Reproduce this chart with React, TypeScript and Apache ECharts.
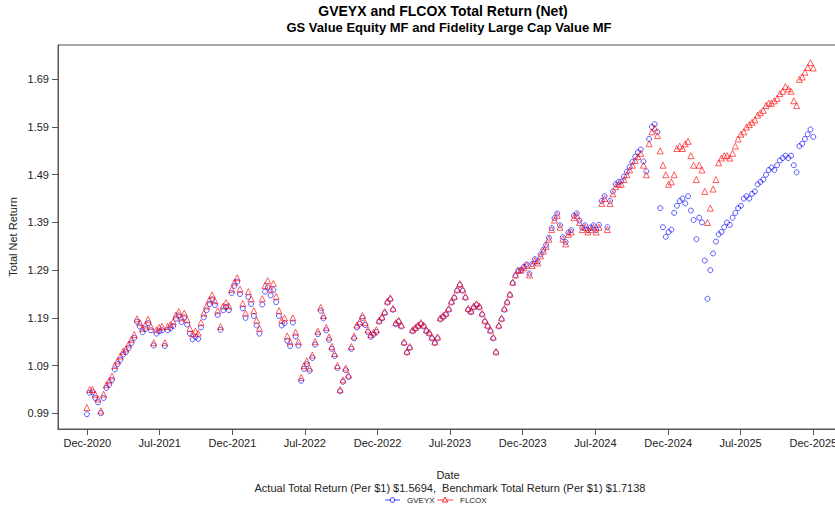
import React, { useEffect, useRef } from "react";
import * as echarts from "echarts";

// Weekly observations starting at this date
const startDate = "2020-12-30";
const stepDays = 7;

const gveyx = [
  0.988, 1.033, 1.034, 1.022, 1.013, 0.99, 1.022, 1.043, 1.05, 1.06,
  1.082, 1.093, 1.102, 1.113, 1.118, 1.127, 1.137, 1.148, 1.182, 1.172,
  1.16, 1.167, 1.179, 1.164, 1.132, 1.157, 1.162, 1.164, 1.131, 1.164,
  1.168, 1.173, 1.188, 1.195, 1.181, 1.191, 1.176, 1.157, 1.145, 1.15,
  1.146, 1.17, 1.191, 1.206, 1.219, 1.229, 1.217, 1.196, 1.165, 1.206,
  1.213, 1.206, 1.242, 1.257, 1.266, 1.24, 1.21, 1.19, 1.234, 1.219,
  1.194, 1.174, 1.157, 1.218, 1.245, 1.254, 1.237, 1.248, 1.223, 1.194,
  1.174, 1.179, 1.142, 1.131, 1.18, 1.151, 1.132, 1.058, 1.083, 1.093,
  1.079, 1.106, 1.134, 1.156, 1.205, 1.189, 1.164, 1.144, 1.125, 1.11,
  1.085, 1.036, 1.056, 1.08, 1.066, 1.125, 1.147, 1.17, 1.177, 1.19,
  1.175, 1.16, 1.15, 1.155, 1.16, 1.182, 1.189, 1.2, 1.222, 1.229,
  1.207, 1.177, 1.182, 1.172, 1.137, 1.117, 1.127, 1.162, 1.167, 1.172,
  1.177, 1.172, 1.162, 1.157, 1.147, 1.137, 1.147, 1.187, 1.192, 1.197,
  1.207, 1.222, 1.232, 1.247, 1.259, 1.247, 1.232, 1.207, 1.202, 1.212,
  1.217, 1.212, 1.197, 1.182, 1.172, 1.162, 1.147, 1.117, 1.172, 1.187,
  1.207, 1.222, 1.238, 1.263, 1.279, 1.289, 1.29, 1.297, 1.302, 1.283,
  1.303, 1.313, 1.308, 1.323, 1.333, 1.343, 1.358, 1.378, 1.399, 1.409,
  1.384, 1.359, 1.349, 1.369, 1.374, 1.404, 1.409, 1.394, 1.379, 1.384,
  1.374, 1.379, 1.384, 1.374, 1.385, 1.435, 1.445, 1.38, 1.435, 1.455,
  1.47, 1.475, 1.476, 1.486, 1.496, 1.506, 1.517, 1.528, 1.537, 1.543,
  1.518, 1.497, 1.565, 1.59, 1.596, 1.58, 1.42, 1.38, 1.36, 1.37,
  1.375, 1.41, 1.425, 1.435, 1.44, 1.43, 1.445, 1.415, 1.395, 1.355,
  1.4, 1.39, 1.31, 1.23, 1.29, 1.325, 1.35, 1.365, 1.37, 1.38,
  1.39, 1.385, 1.4, 1.41, 1.42, 1.425, 1.44, 1.445, 1.44, 1.45,
  1.455, 1.47, 1.475, 1.48, 1.49, 1.5, 1.505, 1.5, 1.51, 1.52,
  1.525, 1.53, 1.525, 1.53, 1.51, 1.495, 1.55, 1.555, 1.565, 1.575,
  1.585, 1.5694,
];

const flcox = [
  1.002, 1.04, 1.04, 1.03, 1.02, 0.995, 1.03, 1.05, 1.058, 1.068,
  1.09, 1.1, 1.11, 1.12, 1.125, 1.135, 1.145, 1.155, 1.188, 1.18,
  1.168, 1.175, 1.187, 1.172, 1.138, 1.165, 1.17, 1.172, 1.138, 1.172,
  1.176, 1.182, 1.196, 1.203, 1.19, 1.2, 1.186, 1.168, 1.157, 1.162,
  1.158, 1.18, 1.2, 1.215, 1.228, 1.238, 1.226, 1.205, 1.172, 1.215,
  1.222, 1.215, 1.25, 1.265, 1.274, 1.25, 1.22, 1.2, 1.245, 1.23,
  1.205, 1.185, 1.168, 1.23, 1.258, 1.268, 1.25, 1.262, 1.235, 1.205,
  1.185, 1.19, 1.152, 1.14, 1.19, 1.16, 1.14, 1.065, 1.09, 1.1,
  1.085, 1.112, 1.14, 1.162, 1.212, 1.195, 1.17, 1.15, 1.13, 1.115,
  1.09, 1.04, 1.06, 1.085, 1.07, 1.13, 1.152, 1.175, 1.182, 1.195,
  1.18, 1.165, 1.155, 1.16, 1.165, 1.185, 1.192, 1.203, 1.225, 1.232,
  1.21, 1.18, 1.185, 1.175, 1.14, 1.12, 1.13, 1.165, 1.17, 1.175,
  1.18, 1.175, 1.165, 1.16, 1.15, 1.14, 1.15, 1.19, 1.195, 1.2,
  1.21, 1.225, 1.235, 1.25, 1.262, 1.25, 1.235, 1.21, 1.205, 1.215,
  1.22, 1.215, 1.2, 1.185, 1.175, 1.165, 1.15, 1.12, 1.175, 1.19,
  1.21, 1.225, 1.24, 1.265, 1.28, 1.29, 1.29, 1.295, 1.3, 1.28,
  1.3, 1.31, 1.305, 1.32, 1.33, 1.34, 1.355, 1.375, 1.395, 1.405,
  1.38, 1.355, 1.345, 1.365, 1.37, 1.4, 1.405, 1.39, 1.375, 1.38,
  1.37, 1.375, 1.38, 1.37, 1.38, 1.43, 1.44, 1.375, 1.43, 1.45,
  1.465, 1.47, 1.47, 1.48, 1.49, 1.5, 1.51, 1.52, 1.528, 1.535,
  1.51, 1.49, 1.555, 1.58, 1.588, 1.572, 1.54, 1.51, 1.49, 1.47,
  1.475, 1.49, 1.545, 1.55, 1.545, 1.555, 1.56, 1.53, 1.51, 1.48,
  1.51, 1.5, 1.455, 1.39, 1.42, 1.46, 1.48, 1.515, 1.525, 1.53,
  1.53, 1.525, 1.535, 1.55, 1.565, 1.575, 1.58, 1.59, 1.595, 1.6,
  1.605, 1.615, 1.62, 1.625, 1.635, 1.64, 1.64, 1.645, 1.65, 1.66,
  1.665, 1.675, 1.67, 1.665, 1.645, 1.635, 1.69, 1.695, 1.705, 1.715,
  1.725, 1.7138,
];

const tickDates = [
  "2020-12-31", "2021-07-01", "2021-12-31", "2022-07-01", "2022-12-31", "2023-07-01",
  "2023-12-31", "2024-07-01", "2024-12-31", "2025-07-01", "2025-12-31",
];
const tickLabels = [
  "Dec-2020", "Jul-2021", "Dec-2021", "Jul-2022", "Dec-2022", "Jul-2023",
  "Dec-2023", "Jul-2024", "Dec-2024", "Jul-2025", "Dec-2025",
];
const yTicks = [0.99, 1.09, 1.19, 1.29, 1.39, 1.49, 1.59, 1.69];

const seriesNames = ["GVEYX", "FLCOX"];
const titleLines = [
  "GVEYX and FLCOX Total Return (Net)",
  "GS Value Equity MF and Fidelity Large Cap Value MF",
];
const caption =
  "Actual Total Return (Per $1) $1.5694,  Benchmark Total Return (Per $1) $1.7138";

const FONT = '"Liberation Sans", Arial, Helvetica, sans-serif';
const DAY = 86400000;
const ORIGIN = Date.UTC(2020, 11, 31);
const toDay = (s: string) => (Date.parse(s + "T00:00:00Z") - ORIGIN) / DAY;

export default function App() {
  const ref = useRef<HTMLDivElement>(null);
  useEffect(() => {
    if (!ref.current) return;
    document.body.style.margin = "0";
    document.body.style.overflow = "hidden";
    const chart = echarts.init(ref.current, undefined, { renderer: "svg" });
    const start = toDay(startDate);
    const gData = gveyx.map((v, i) => [start + i * stepDays, v]);
    const fData = flcox.map((v, i) => [start + i * stepDays, v]);
    const tickVals = tickDates.map(toDay);
    const axisColor = "#555";
    const labelColor = "#222";

    chart.setOption({
      animation: false,
      textStyle: { fontFamily: FONT },
      grid: {
        left: 58,
        top: 45,
        right: 0,
        bottom: 79,
        outerBoundsMode: "none",
        containLabel: false,
        show: true,
        borderColor: axisColor,
        borderWidth: 1,
        backgroundColor: "transparent",
      },
      xAxis: {
        type: "value",
        min: -73.7,
        max: 1930.9,
        splitLine: { show: false },
        axisLine: { show: true, onZero: false, lineStyle: { color: axisColor } },
        axisTick: {
          show: true,
          length: 6,
          customValues: tickVals,
          lineStyle: { color: axisColor },
        },
        axisLabel: {
          customValues: tickVals,
          color: labelColor,
          fontSize: 11,
          fontFamily: FONT,
          margin: 8,
          formatter: (v: number) => {
            let best = 0;
            tickVals.forEach((t, i) => {
              if (Math.abs(t - v) < Math.abs(tickVals[best] - v)) best = i;
            });
            return tickLabels[best];
          },
        },
      },
      yAxis: {
        type: "value",
        min: 0.957,
        max: 1.762,
        splitLine: { show: false },
        axisLine: { show: true, onZero: false, lineStyle: { color: axisColor } },
        axisTick: {
          show: true,
          length: 6,
          customValues: yTicks,
          lineStyle: { color: axisColor },
        },
        axisLabel: {
          customValues: yTicks,
          color: labelColor,
          fontSize: 11,
          fontFamily: FONT,
          margin: 9,
          formatter: (v: number) => v.toFixed(2),
        },
      },
      series: [
        {
          name: seriesNames[0],
          type: "scatter",
          data: gData,
          symbol: "circle",
          symbolSize: 5,
          itemStyle: {
            color: "rgba(0,0,0,0)",
            borderColor: "rgba(0,0,255,0.8)",
            borderWidth: 1,
          },
        },
        {
          name: seriesNames[1],
          type: "scatter",
          data: fData,
          symbol: "triangle",
          symbolSize: 6,
          itemStyle: {
            color: "rgba(0,0,0,0)",
            borderColor: "rgba(255,0,0,0.8)",
            borderWidth: 1,
          },
        },
      ],
      graphic: [
        {
          type: "text",
          x: 443,
          y: 11,
          style: {
            text: titleLines[0],
            font: `bold 14px ${FONT}`,
            fill: "#000",
            textAlign: "center",
            textVerticalAlign: "middle",
          },
        },
        {
          type: "text",
          x: 449,
          y: 27,
          style: {
            text: titleLines[1],
            font: `bold 13px ${FONT}`,
            fill: "#000",
            textAlign: "center",
            textVerticalAlign: "middle",
          },
        },
        {
          type: "text",
          x: 13,
          y: 237,
          rotation: Math.PI / 2,
          style: {
            text: "Total Net Return",
            font: `11px ${FONT}`,
            fill: labelColor,
            textAlign: "center",
            textVerticalAlign: "middle",
          },
        },
        {
          type: "text",
          x: 448,
          y: 475,
          style: {
            text: "Date",
            font: `11px ${FONT}`,
            fill: labelColor,
            textAlign: "center",
            textVerticalAlign: "middle",
          },
        },
        {
          type: "text",
          x: 450,
          y: 488,
          style: {
            text: caption,
            font: `11px ${FONT}`,
            fill: labelColor,
            textAlign: "center",
            textVerticalAlign: "middle",
          },
        },
        // legend
        {
          type: "line",
          shape: { x1: 385, y1: 500, x2: 400, y2: 500 },
          style: { stroke: "rgba(0,0,255,0.75)", lineWidth: 1 },
        },
        {
          type: "circle",
          shape: { cx: 392.5, cy: 500, r: 2.3 },
          style: { fill: "#fff", stroke: "rgba(0,0,255,0.85)", lineWidth: 1 },
        },
        {
          type: "text",
          x: 407,
          y: 500,
          style: {
            text: seriesNames[0],
            font: `8px ${FONT}`,
            fill: labelColor,
            textAlign: "left",
            textVerticalAlign: "middle",
          },
        },
        {
          type: "line",
          shape: { x1: 437, y1: 500, x2: 453, y2: 500 },
          style: { stroke: "rgba(255,0,0,0.75)", lineWidth: 1 },
        },
        {
          type: "polygon",
          shape: { points: [[445, 497], [442.3, 502], [447.7, 502]] },
          style: { fill: "#fff", stroke: "rgba(255,0,0,0.85)", lineWidth: 1 },
        },
        {
          type: "text",
          x: 460,
          y: 500,
          style: {
            text: seriesNames[1],
            font: `8px ${FONT}`,
            fill: labelColor,
            textAlign: "left",
            textVerticalAlign: "middle",
          },
        },
      ],
    });
    return () => chart.dispose();
  }, []);

  return (
    <div
      ref={ref}
      style={{ position: "fixed", left: 0, top: 0, width: 855, height: 508, background: "#fff" }}
    />
  );
}
